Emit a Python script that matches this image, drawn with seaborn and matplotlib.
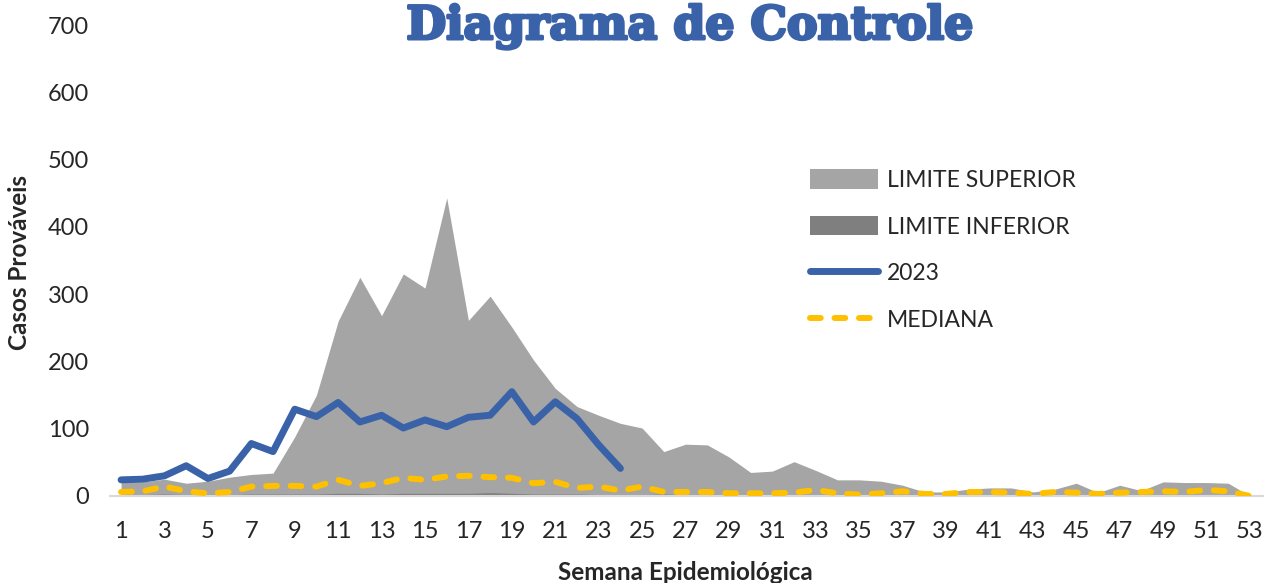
import numpy as np
import pandas as pd
import matplotlib
matplotlib.use("Agg")
import matplotlib.pyplot as plt
import matplotlib.patheffects as pe
import seaborn as sns
from matplotlib.patches import Patch
from matplotlib.lines import Line2D

# semanas epidemiologicas
semanas = list(range(1, 54))

limite_superior = [20, 21, 25, 19, 22, 28, 32, 34, 88, 150, 260, 325, 268, 330, 309,
                   443, 261, 297, 251, 202, 160, 133, 120, 108, 101, 66, 77, 76, 58,
                   35, 37, 51, 38, 24, 24, 22, 16, 6, 6, 10, 12, 12, 6, 10, 19, 5, 16,
                   8, 21, 20, 20, 19, 0]

limite_inferior = [2, 2, 3, 2, 2, 2, 3, 3, 3, 3, 4, 4, 3, 4, 4, 4, 4, 5, 4, 3, 3, 3,
                   2, 2, 2, 3, 2, 2, 2, 1, 1, 1, 2, 1, 1, 1, 1, 1, 1, 1, 2, 2, 1, 2,
                   2, 1, 2, 1, 2, 2, 2, 2, 0]

casos_2023 = [24, 25, 30, 45, 26, 37, 78, 66, 129, 118, 139, 110, 120, 101, 113,
              103, 117, 120, 155, 110, 140, 115, 76, 41]

mediana = [6, 7, 14, 7, 4, 6, 14, 15, 15, 14, 24, 15, 19, 27, 24, 29, 30, 28, 27,
           19, 21, 12, 14, 8, 14, 6, 6, 6, 4, 4, 4, 5, 9, 4, 2, 4, 7, 3, 3, 6, 6,
           5, 3, 6, 5, 3, 5, 6, 7, 6, 9, 7, 0]

cor_sup = "#a5a5a5"
cor_inf = "#7f7f7f"
cor_azul = "#3a62a8"
cor_amarelo = "#ffc000"
tracejado = (0, (1.8, 2.3))

sns.set_style("white")
plt.rcParams['font.family'] = ['Lato', 'DejaVu Sans']

fig = plt.figure(figsize=(12.67, 5.83), dpi=100)
ax = fig.add_axes([110 / 1267, 87 / 583, 1153 / 1267, 471 / 583])

ax.fill_between(semanas, limite_superior, color=cor_sup, linewidth=0, zorder=1)
ax.fill_between(semanas, limite_inferior, color=cor_inf, linewidth=0, zorder=2)

df_2023 = pd.DataFrame({"semana": semanas[:len(casos_2023)], "casos": casos_2023})
df_med = pd.DataFrame({"semana": semanas, "casos": mediana})

sns.lineplot(data=df_2023, x="semana", y="casos", color=cor_azul, linewidth=5,
             ax=ax, zorder=4, solid_capstyle="round", solid_joinstyle="round")
sns.lineplot(data=df_med, x="semana", y="casos", color=cor_amarelo, linewidth=4.3,
             ax=ax, zorder=3, dashes=False, linestyle=tracejado,
             dash_capstyle="round")

ax.set_xlim(0.49, 53.6)
ax.set_ylim(0, 700)
ax.set_xticks(semanas[::2])
ax.set_xticklabels([str(s) for s in semanas[::2]], fontsize=17)
ax.set_yticks(range(0, 701, 100))
ax.set_yticklabels([str(v) for v in range(0, 701, 100)], fontsize=17)
ax.tick_params(axis='x', length=0, pad=18)
ax.tick_params(axis='y', length=0, pad=15)

for s in ["top", "right", "left"]:
    ax.spines[s].set_visible(False)
ax.spines["bottom"].set_color("#d9d9d9")
ax.spines["bottom"].set_linewidth(1.5)

ax.set_xlabel("")
ax.set_ylabel("")
fig.text(685 / 1267, 1 - 572 / 583, "Semana Epidemiológica", ha="center",
         va="center", fontsize=17.5, fontweight="bold")
fig.text(20 / 1267, 1 - 262 / 583, "Casos Prováveis", rotation=90, ha="center",
         va="center", fontsize=17.5, fontweight="bold")

titulo = fig.text(0.545, 0.955, "Diagrama de Controle", ha="center", va="center",
                  fontsize=33, fontweight="heavy", family="DejaVu Serif",
                  color=cor_azul)
titulo.set_path_effects([pe.withStroke(linewidth=2.2, foreground=cor_azul)])

handles = [Patch(facecolor=cor_sup, edgecolor="none"),
           Patch(facecolor=cor_inf, edgecolor="none"),
           Line2D([0], [0], color=cor_azul, linewidth=5, solid_capstyle="round"),
           Line2D([0], [0], color=cor_amarelo, linewidth=4.3, linestyle=tracejado,
                  dash_capstyle="round")]
labels = ["LIMITE SUPERIOR", "LIMITE INFERIOR", "2023", "MEDIANA"]
ax.legend(handles, labels, loc="upper left", bbox_to_anchor=(0.589, 0.737),
          frameon=False, fontsize=16.5, handlelength=3.0, handleheight=0.9,
          labelspacing=1.1, handletextpad=0.35)

fig.savefig("out.png", dpi=100)
